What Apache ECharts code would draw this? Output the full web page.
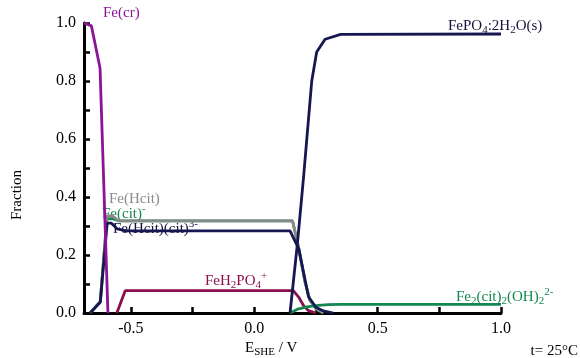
<!DOCTYPE html>
<html>
<head>
<meta charset="utf-8">
<style>
  html, body { margin: 0; padding: 0; background: #fff; }
  #chart { width: 580px; height: 358px; }
</style>
<script src="https://cdn.jsdelivr.net/npm/echarts@6/dist/echarts.min.js"></script>
</head>
<body>
<div id="chart"></div>
<script>
// Iron species fractions vs. potential E_SHE (V), t = 25 °C
const feCr = [[-0.69, 1.0], [-0.66, 0.99], [-0.625, 0.845], [-0.593, 0]];
const feCit = [[-0.665, 0], [-0.624, 0.04], [-0.597, 0.325], [-0.575, 0.325], [-0.55, 0.318],
  [0.155, 0.318], [0.18, 0.225], [0.205, 0.11], [0.225, 0.045], [0.25, 0.015], [0.28, 0]];
const feHcit = [[-0.665, 0], [-0.624, 0.04], [-0.597, 0.335], [-0.575, 0.335], [-0.55, 0.318],
  [0.155, 0.318], [0.18, 0.225], [0.205, 0.11], [0.225, 0.045], [0.25, 0.015], [0.28, 0]];
const feH2PO4 = [[-0.557, 0], [-0.523, 0.077], [0.158, 0.077], [0.18, 0.055], [0.2, 0.025],
  [0.22, 0.008], [0.25, 0]];
const feHcitCit = [[-0.665, 0], [-0.624, 0.037], [-0.596, 0.31], [-0.58, 0.31], [-0.555, 0.29],
  [-0.52, 0.283], [0.145, 0.283], [0.18, 0.222], [0.22, 0.056], [0.25, 0.02], [0.28, 0.007], [0.32, 0]];
const fe2Cit2OH2 = [[0.145, 0], [0.175, 0.013], [0.22, 0.022], [0.26, 0.026], [0.3, 0.029],
  [0.35, 0.03], [1.0, 0.03]];
const fePO4 = [[0.145, 0], [0.175, 0.24], [0.2, 0.47], [0.233, 0.8], [0.253, 0.9], [0.287, 0.944],
  [0.35, 0.961], [1.0, 0.962]];

const xTicks = [-0.5, -0.25, 0, 0.25, 0.5, 0.75, 1.0];
const xLabels = [-0.5, 0, 0.5, 1.0];
const yLabels = [0, 0.2, 0.4, 0.6, 0.8, 1.0];

const SERIF = 'Liberation Serif';
const C = {
  purple: '#8c1496',
  gray: '#8a8a8a',
  green: '#148750',
  maroon: '#8c0f4b',
  navy: '#161650',
  ink: '#141440'
};

function rich(color, size) {
  const base = { fontFamily: SERIF, fontSize: size, lineHeight: 20, fill: color, color: color, verticalAlign: 'middle' };
  return {
    n: base,
    sub: { fontFamily: SERIF, fontSize: 11, lineHeight: 11, fill: color, color: color, verticalAlign: 'bottom' },
    sup: { fontFamily: SERIF, fontSize: 11, lineHeight: 11, fill: color, color: color, verticalAlign: 'top' }
  };
}

function label(text, x, y, color, opts) {
  opts = opts || {};
  const size = opts.size || 15;
  return {
    type: 'text',
    x: x, y: y,
    rotation: opts.rotation || 0,
    z: opts.z || 0,
    style: {
      text: text,
      rich: rich(color, size),
      fontFamily: SERIF,
      fontSize: size,
      fill: color,
      align: opts.align || 'left',
      textAlign: opts.align || 'left',
      verticalAlign: 'middle',
      textVerticalAlign: 'middle'
    }
  };
}

function line(name, data, color, z) {
  return {
    name: name,
    type: 'line',
    data: data,
    z: z,
    symbol: 'none',
    smooth: false,
    clip: false,
    lineStyle: { color: color, width: 2.8 },
    emphasis: { disabled: true }
  };
}

const chart = echarts.init(document.getElementById('chart'), null, { renderer: 'canvas' });

chart.setOption({
  animation: false,
  backgroundColor: '#fff',
  grid: { left: 84, right: 79, top: 23, bottom: 45 },
  xAxis: {
    type: 'value',
    min: -0.69,
    max: 1.0,
    axisLine: { show: true, onZero: false, lineStyle: { color: '#000', width: 3 } },
    axisTick: { show: true, inside: true, length: 6, lineStyle: { color: '#000', width: 2.5 }, customValues: xTicks },
    axisLabel: {
      customValues: xLabels,
      formatter: v => v.toFixed(1),
      fontFamily: SERIF, fontSize: 16, color: '#000', margin: 8
    },
    splitLine: { show: false }
  },
  yAxis: {
    type: 'value',
    position: 'left',
    min: 0,
    max: 1.0,
    interval: 0.1,
    axisLine: { show: true, onZero: false, lineStyle: { color: '#000', width: 3 } },
    axisTick: { show: true, inside: true, length: 6, lineStyle: { color: '#000', width: 2.5 } },
    axisLabel: {
      customValues: yLabels,
      formatter: v => v.toFixed(1),
      fontFamily: SERIF, fontSize: 16, color: '#000', margin: 8
    },
    splitLine: { show: false }
  },
  series: [
    line('Fe(cit)-', feCit, C.green, 2),
    line('Fe(Hcit)', feHcit, C.gray, 3),
    line('FeH2PO4+', feH2PO4, C.maroon, 4),
    line('Fe2(cit)2(OH)2 2-', fe2Cit2OH2, C.green, 5),
    line('Fe(Hcit)(cit)3-', feHcitCit, C.navy, 6),
    line('Fe(cr)', feCr, C.purple, 7),
    line('FePO4:2H2O(s)', fePO4, C.navy, 8)
  ],
  graphic: [
    label('{n|Fe(cr)}', 103, 13, C.purple),
    label('{n|FePO}{sub|4}{n|:2H}{sub|2}{n|O(s)}', 448, 26, C.ink),
    label('{n|Fe(Hcit)}', 109, 199, C.gray),
    label('{n|Fe(cit)}{sup|-}', 102, 214, C.green),
    label('{n|Fe(Hcit)(cit)}{sup|3-}', 113, 229, C.ink),
    label('{n|FeH}{sub|2}{n|PO}{sub|4}{sup|+}', 205, 281, C.maroon),
    label('{n|Fe}{sub|2}{n|(cit)}{sub|2}{n|(OH)}{sub|2}{sup|2-}', 456, 297, C.green),
    label('{n|Fraction}', 17, 195, '#000', { rotation: Math.PI / 2, align: 'center' }),
    label('{n|E}{sub|SHE}{n| / V}', 245, 348, '#000'),
    label('{n|t= 25°C}', 578, 351, '#000', { align: 'right' })
  ]
});
</script>
</body>
</html>
